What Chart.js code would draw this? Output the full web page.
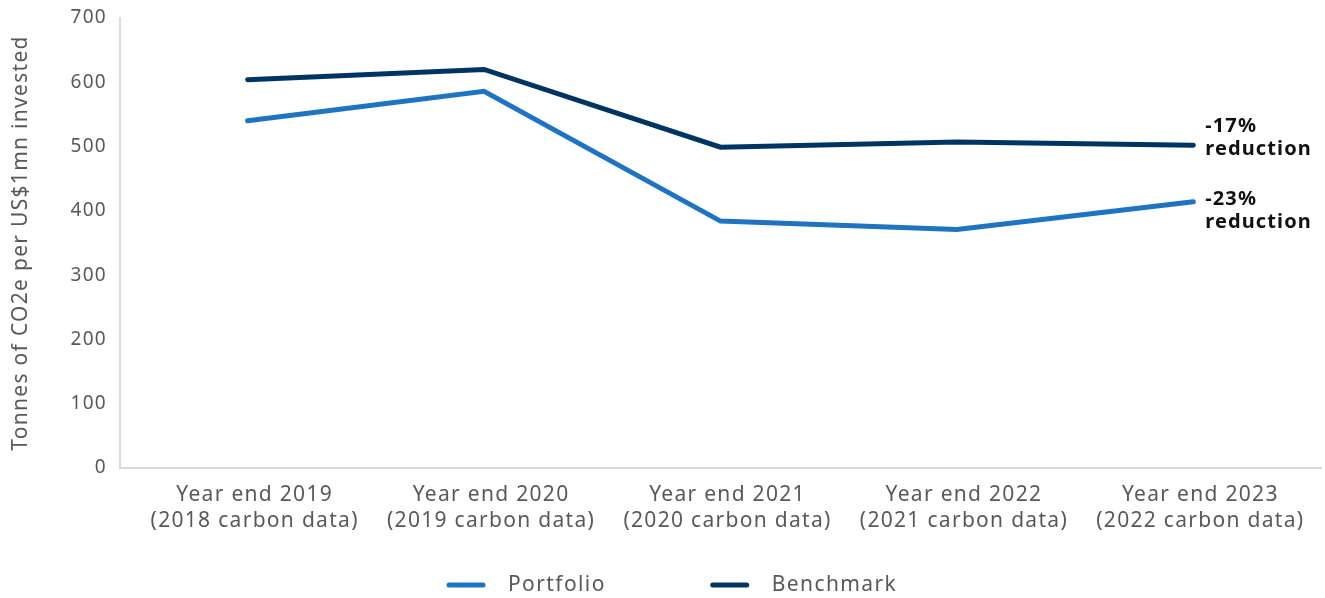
<!DOCTYPE html>
<html>
<head>
<meta charset="utf-8">
<script src="https://cdn.jsdelivr.net/npm/chart.js@4.4.1/dist/chart.umd.min.js"></script>
<style>
  html, body { margin: 0; padding: 0; background: #fff; }
  #wrap { width: 1325px; height: 598px; }
</style>
</head>
<body>
<div id="wrap"><canvas id="co2Chart" width="1325" height="598"></canvas></div>
<script>
// carbon intensity, tonnes CO2e per US$1mn invested
const categories = [
    ['Year end 2019', '(2018 carbon data)'],
    ['Year end 2020', '(2019 carbon data)'],
    ['Year end 2021', '(2020 carbon data)'],
    ['Year end 2022', '(2021 carbon data)'],
    ['Year end 2023', '(2022 carbon data)']
];
const portfolio = [540, 586, 384, 371, 414];
const benchmark = [604, 620, 499, 507, 502];
const yTicks = [0, 100, 200, 300, 400, 500, 600, 700];

const textGrey = '#595959';
const axisGrey = '#d9d9d9';
const fontFamily = '"Noto Sans", "Open Sans", sans-serif';
const tracking = '1.3px';

// where the reduction notes sit relative to the last point (first line, second line)
const noteOffsets = { Portfolio: [-3, 20], Benchmark: [-19, 4] };

// slightly looser letter spacing for the axis text
// (set again before layout and draw, since a canvas resize resets the context)
const tracked = {
    id: 'tracked',
    beforeUpdate(chart) { chart.ctx.letterSpacing = tracking; },
    beforeDraw(chart) { chart.ctx.letterSpacing = tracking; }
};

const reductionNotes = {
    id: 'reductionNotes',
    afterDatasetsDraw(chart) {
        const ctx = chart.ctx;
        ctx.save();
        ctx.font = 'bold 20px ' + fontFamily;
        ctx.letterSpacing = '1.1px';
        ctx.fillStyle = '#111';
        ctx.textAlign = 'left';
        ctx.textBaseline = 'middle';
        chart.data.datasets.forEach((ds, i) => {
            const meta = chart.getDatasetMeta(i);
            const last = meta.data[meta.data.length - 1];
            const first = ds.data[0].y;
            const end = ds.data[ds.data.length - 1].y;
            const pct = Math.round((end / first - 1) * 100);
            const off = noteOffsets[ds.label];
            ctx.fillText(pct + '%', last.x + 12, last.y + off[0]);
            ctx.fillText('reduction', last.x + 12, last.y + off[1]);
        });
        ctx.restore();
    }
};

// line-sample legend under the axis
const lineLegend = {
    id: 'lineLegend',
    afterDraw(chart) {
        const ctx = chart.ctx;
        const y = 585;
        const sample = 38, gap = 23, spacing = 105;
        ctx.save();
        ctx.font = '21px ' + fontFamily;
        ctx.letterSpacing = '1.4px';
        ctx.textBaseline = 'middle';
        const items = chart.data.datasets.map(ds => ({
            label: ds.label, color: ds.borderColor,
            w: sample + gap + ctx.measureText(ds.label).width
        }));
        let x = 447;
        items.forEach(it => {
            ctx.strokeStyle = it.color;
            ctx.lineWidth = 5;
            ctx.lineCap = 'round';
            ctx.beginPath();
            ctx.moveTo(x + 2, y);
            ctx.lineTo(x + sample - 2, y);
            ctx.stroke();
            ctx.fillStyle = textGrey;
            ctx.fillText(it.label, x + sample + gap, y);
            x += it.w + spacing;
        });
        ctx.restore();
    }
};

const toPoints = arr => arr.map((v, i) => ({ x: i, y: v }));

new Chart(document.getElementById('co2Chart'), {
    type: 'line',
    data: {
        datasets: [
            {
                label: 'Portfolio',
                data: toPoints(portfolio),
                borderColor: '#1f74c1',
                borderWidth: 5,
                borderCapStyle: 'round',
                borderJoinStyle: 'miter',
                pointRadius: 0,
                tension: 0
            },
            {
                label: 'Benchmark',
                data: toPoints(benchmark),
                borderColor: '#003562',
                borderWidth: 5,
                borderCapStyle: 'round',
                borderJoinStyle: 'miter',
                pointRadius: 0,
                tension: 0
            }
        ]
    },
    options: {
        responsive: false,
        animation: false,
        layout: { padding: { top: 18, right: 4, bottom: 50, left: 0 } },
        plugins: {
            legend: { display: false },
            tooltip: { enabled: false }
        },
        scales: {
            x: {
                type: 'linear',
                min: -0.54,
                max: 4.54,
                afterBuildTicks: scale => {
                    scale.ticks = categories.map((c, i) => ({ value: i }));
                },
                ticks: {
                    color: textGrey,
                    font: { family: fontFamily, size: 21, lineHeight: 1.24 },
                    padding: 14,
                    labelOffset: 7,
                    maxRotation: 0,
                    autoSkip: false,
                    callback: value => categories[value]
                },
                grid: { drawOnChartArea: false, drawTicks: false },
                border: { color: axisGrey, width: 2 }
            },
            y: {
                min: 0,
                max: 700,
                afterBuildTicks: scale => {
                    scale.ticks = yTicks.map(v => ({ value: v }));
                },
                afterFit: scale => {
                    scale.width = 120;
                    scale.paddingTop = 0;
                    scale.paddingBottom = 0;
                },
                ticks: {
                    color: textGrey,
                    font: { family: fontFamily, size: 19 },
                    padding: 13
                },
                grid: { drawOnChartArea: false, drawTicks: false },
                border: { color: axisGrey, width: 2 },
                title: {
                    display: true,
                    text: 'Tonnes of CO2e per US$1mn invested',
                    color: textGrey,
                    font: { family: fontFamily, size: 21 },
                    padding: { top: 8, bottom: 0 }
                }
            }
        }
    },
    plugins: [tracked, reductionNotes, lineLegend]
});
</script>
</body>
</html>
